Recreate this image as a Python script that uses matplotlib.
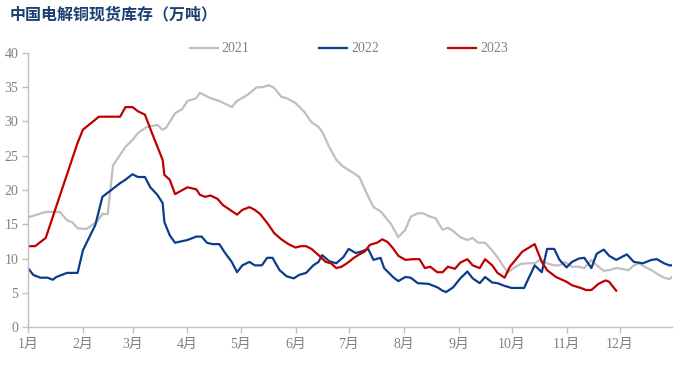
import matplotlib
matplotlib.use("Agg")
import matplotlib.pyplot as plt

plt.rcParams['font.family'] = ['Liberation Serif', 'Noto Sans CJK SC', 'DejaVu Sans']

title = "中国电解铜现货库存（万吨）"
month_labels = ["1月", "2月", "3月", "4月", "5月", "6月", "7月", "8月", "9月", "10月", "11月", "12月"]
month_starts = [0, 31, 59, 90, 120, 151, 181, 212, 243, 273, 304, 334]

# 2021 (day of year, 10k tonnes)
d2021 = [0, 5, 10, 14, 18, 22, 25, 28, 33, 39, 42, 45, 48, 55, 59, 62, 67, 73, 76, 78,
         83, 87, 90, 95, 97, 103, 108, 115, 118, 124, 129, 132, 136, 139, 143, 146, 151,
         156, 160, 164, 166, 170, 174, 178, 183, 187, 191, 195, 199, 205, 209, 213, 216,
         220, 223, 227, 230, 234, 237, 240, 244, 248, 251, 254, 258, 262, 266, 269, 271,
         274, 278, 282, 286, 289, 293, 297, 300, 303, 307, 311, 314, 318, 321, 325, 328,
         332, 335, 339, 342, 345, 348, 352, 356, 359, 362, 364]
v2021 = [16.0, 16.4, 16.8, 16.8, 16.8, 15.6, 15.3, 14.4, 14.3, 15.4, 16.5, 16.5, 23.6, 26.3,
         27.3, 28.3, 29.2, 29.5, 28.8, 29.1, 31.2, 31.8, 33.0, 33.4, 34.2, 33.4, 33.0, 32.1,
         33.0, 33.9, 35.0, 35.0, 35.3, 34.9, 33.6, 33.4, 32.7, 31.4, 29.9, 29.2, 28.5, 26.3,
         24.4, 23.4, 22.6, 21.9, 19.6, 17.5, 16.9, 15.0, 13.1, 14.2, 16.1, 16.6, 16.6, 16.1,
         15.9, 14.2, 14.5, 14.0, 13.1, 12.7, 13.0, 12.3, 12.3, 11.2, 9.8, 8.6, 8.0, 8.6, 9.2,
         9.3, 9.3, 9.8, 9.3, 9.0, 9.0, 9.5, 8.8, 8.8, 8.6, 9.8, 9.0, 8.2, 8.3, 8.6, 8.5, 8.3,
         9.0, 9.3, 8.8, 8.3, 7.6, 7.2, 7.0, 7.4]

# 2022
d2022 = [0, 3, 7, 11, 14, 16, 22, 28, 31, 38, 42, 52, 55, 59, 62, 66, 69, 73, 76, 77, 80,
         83, 90, 95, 98, 101, 104, 108, 111, 115, 118, 121, 125, 128, 132, 135, 138, 142,
         146, 150, 153, 157, 161, 164, 166, 170, 174, 178, 181, 185, 188, 192, 195, 199,
         201, 206, 209, 213, 216, 220, 226, 231, 234, 236, 240, 244, 248, 251, 255, 258,
         262, 265, 269, 273, 280, 286, 290, 293, 297, 300, 304, 307, 311, 314, 318, 321,
         325, 328, 332, 338, 342, 347, 352, 355, 359, 362, 364]
v2022 = [8.6, 7.6, 7.2, 7.2, 6.9, 7.3, 7.9, 7.9, 11.2, 14.9, 19.0, 21.0, 21.5, 22.3, 21.9,
         21.9, 20.4, 19.3, 18.1, 15.3, 13.4, 12.3, 12.7, 13.2, 13.2, 12.3, 12.1, 12.1, 10.9,
         9.5, 8.0, 9.0, 9.5, 9.0, 9.0, 10.1, 10.1, 8.3, 7.4, 7.1, 7.6, 7.9, 9.0, 9.5, 10.5,
         9.6, 9.3, 10.2, 11.4, 10.8, 11.0, 11.4, 9.8, 10.1, 8.6, 7.3, 6.7, 7.3, 7.2, 6.4, 6.3,
         5.8, 5.3, 5.1, 5.8, 7.1, 8.1, 7.1, 6.4, 7.3, 6.5, 6.4, 6.0, 5.7, 5.7, 9.0, 8.0, 11.4,
         11.4, 9.8, 8.7, 9.5, 10.0, 10.1, 8.6, 10.7, 11.3, 10.4, 9.8, 10.6, 9.5, 9.3, 9.8,
         9.9, 9.3, 9.0, 9.0]

# 2023
d2023 = [0, 4, 10, 28, 31, 40, 52, 55, 59, 62, 66, 70, 76, 77, 80, 83, 90, 95, 97, 100, 103,
         107, 110, 114, 118, 121, 125, 128, 131, 135, 139, 143, 147, 151, 154, 157, 160, 164,
         168, 171, 174, 177, 180, 184, 187, 190, 193, 197, 200, 203, 206, 209, 213, 217, 221,
         224, 227, 231, 234, 237, 241, 244, 248, 251, 255, 258, 262, 265, 269, 272, 279, 286,
         290, 293, 298, 304, 307, 312, 315, 318, 322, 326, 328, 332]
v2023 = [11.8, 11.8, 13.0, 26.9, 28.8, 30.7, 30.7, 32.1, 32.1, 31.5, 31.0, 28.3, 24.4, 22.2,
         21.5, 19.4, 20.4, 20.1, 19.3, 19.0, 19.2, 18.7, 17.8, 17.1, 16.4, 17.1, 17.5, 17.1,
         16.5, 15.2, 13.7, 12.8, 12.1, 11.6, 11.8, 11.8, 11.4, 10.5, 9.5, 9.3, 8.6, 8.8, 9.3,
         10.1, 10.6, 11.0, 12.0, 12.3, 12.8, 12.4, 11.5, 10.4, 9.8, 9.9, 9.9, 8.6, 8.8, 8.0,
         8.0, 8.8, 8.5, 9.4, 9.9, 9.0, 8.6, 9.9, 9.0, 7.9, 7.2, 8.8, 11.0, 12.1, 9.5, 8.3, 7.3,
         6.6, 6.1, 5.7, 5.4, 5.4, 6.3, 6.8, 6.6, 5.3]

c2021 = '#BFBFBF'
c2022 = '#0B3D8C'
c2023 = '#C00000'
axis_gray = '#BFBFBF'
text_gray = '#808080'

fig = plt.figure(figsize=(6.79, 3.66), dpi=100)
ax = fig.add_axes([28/679, 39/366, (672-28)/679, (327-53)/366])

ax.plot(d2021, v2021, color=c2021, lw=1.6, label='2021', solid_joinstyle='round')
ax.plot(d2022, v2022, color=c2022, lw=1.6, label='2022', solid_joinstyle='round')
ax.plot(d2023, v2023, color=c2023, lw=1.6, label='2023', solid_joinstyle='round')

ax.set_xlim(0, 363.5)
ax.set_ylim(0, 40)
ax.set_yticks(range(0, 41, 5))
ax.set_xticks(month_starts)
ax.set_xticklabels(month_labels)

for s in ['top', 'right']:
    ax.spines[s].set_visible(False)
for s in ['left', 'bottom']:
    ax.spines[s].set_color(axis_gray)
    ax.spines[s].set_linewidth(1.0)
ax.tick_params(axis='both', colors=axis_gray, labelcolor=text_gray, labelsize=10,
               length=4, width=1.0, direction='out')
ax.tick_params(axis='y', pad=3)
ax.tick_params(axis='x', pad=4)

fig.text(10/679, 1 - 14/366, title, fontsize=11.5, fontweight='bold', color='#1B3F73',
         ha='left', va='center', family=['Noto Sans CJK SC', 'DejaVu Sans'])

leg = fig.legend(loc='center', bbox_to_anchor=(349/679, 1 - 49/366), ncol=3, frameon=False,
                 fontsize=10, handlelength=2.0, handletextpad=0.3, columnspacing=5.0)
for t in leg.get_texts():
    t.set_color(text_gray)

fig.savefig('out.png', dpi=100)
